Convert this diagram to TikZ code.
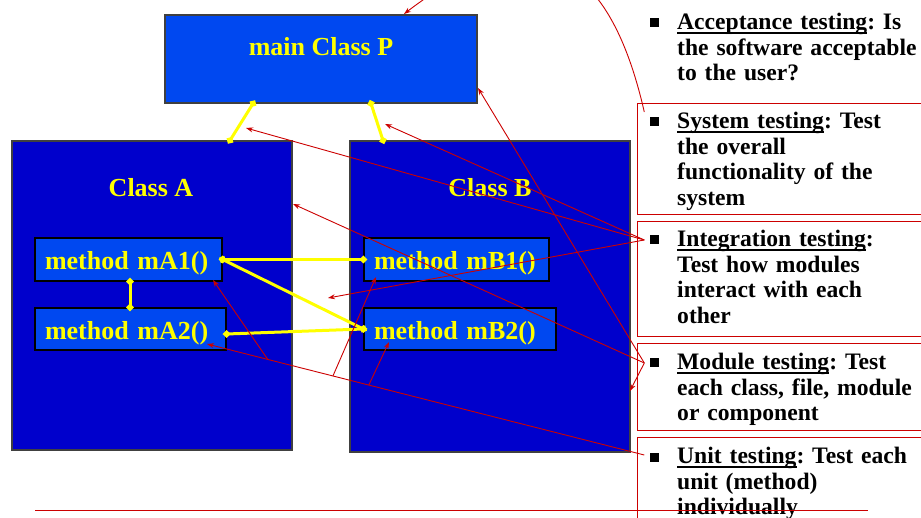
\documentclass[tikz,border=0pt]{standalone}
\usepackage{fontspec}
\setmainfont{Liberation Serif}
\usetikzlibrary{arrows.meta,calc}
\frenchspacing
\newsavebox{\ulbox}
\newcommand{\testul}[1]{\sbox{\ulbox}{#1}\rlap{\rule[-4pt]{\wd\ulbox}{1.5pt}}\usebox{\ulbox}}
\definecolor{pblue}{RGB}{0,72,240}
\definecolor{cblue}{RGB}{0,0,204}
\definecolor{dred}{RGB}{204,0,0}
\definecolor{yel}{RGB}{255,255,0}
\tikzset{
  mainbox/.style={draw=black!75, line width=1.2pt, fill=pblue},
  classbox/.style={draw=black!75, line width=1.2pt, fill=cblue},
  methodbox/.style={draw=black, line width=1.2pt, fill=pblue, text=yel, align=left,
    inner xsep=10pt, inner ysep=2pt, text height=24pt, text depth=3pt,
    font=\fontsize{26}{28}\selectfont\bfseries},
  boxlabel/.style={text=yel, inner sep=0pt, font=\fontsize{26}{28}\selectfont\bfseries},
  ylink/.style={draw=yel, line width=3pt, shorten <=-4pt, shorten >=-4pt,
    {Diamond[length=8pt,width=8pt]}-{Diamond[length=8pt,width=8pt]}},
  testarrow/.style={draw=dred, line width=0.9pt, -{Stealth[length=7pt,width=5pt]}},
  testline/.style={draw=dred, line width=0.9pt},
  testframe/.style={draw=dred, line width=0.8pt},
  bul/.style={fill=black, minimum size=9pt, inner sep=0pt},
  testtext/.style={anchor=north west, inner sep=0pt, align=left, text width=250pt,
    font=\fontsize{23.6}{25.7}\selectfont\bfseries}
}

\begin{document}
\begin{tikzpicture}[x=1pt, y=-1pt]
    \useasboundingbox (0,0) rectangle (921,518);
    \fill[white] (0,0) rectangle (921,518);
    \clip (0,0) rectangle (921,518);

    \node[classbox, minimum width=280pt, minimum height=309pt] (A) at (152,295.5) {};
    \node[classbox, minimum width=280pt, minimum height=311pt] (B) at (490,296.5) {};
    \node[mainbox, minimum width=312pt, minimum height=88pt] (P) at (321,59) {};
    \node[boxlabel] (Ptxt) at (321,47) {main Class P};
    \node[boxlabel] (Atxt) at (151,188) {Class A};
    \node[boxlabel] (Btxt) at (490,188) {Class B};

    \node[methodbox, minimum width=187pt, minimum height=43pt, text width=167pt] (mA1) at (128.5,259.5) {method mA1()};
    \node[methodbox, minimum width=191pt, minimum height=42pt, text width=171pt] (mA2) at (130.5,329) {method mA2()};
    \node[methodbox, minimum width=185pt, minimum height=43pt, text width=165pt] (mB1) at (456.5,259.5) {method mB1()};
    \node[methodbox, minimum width=192pt, minimum height=42pt, text width=172pt] (mB2) at (460,329) {method mB2()};

    \draw[ylink] ([xshift=-68pt]P.south) -- ([xshift=78pt]A.north);
    \draw[ylink] ([xshift=50pt]P.south) -- ([xshift=-107pt]B.north);
    \draw[ylink] ([xshift=1.5pt]mA1.south) -- ([xshift=-0.5pt]mA2.north);
    \draw[ylink] (mA1.east) -- (mB1.west);
    \draw[ylink] (mA1.east) -- (mB2.west);
    \draw[ylink] ([yshift=-5pt]mA2.east) -- (mB2.west);

    \node[bul] (bAcc) at (654,23) {};
    \node[bul] (bSys) at (654,122) {};
    \node[bul] (bInt) at (654,240) {};
    \node[bul] (bMod) at (654,363) {};
    \node[bul] (bUni) at (654,457) {};

    \node[testtext] (tAcc) at (677,13) {\testul{Acceptance testing}: Is\\the software acceptable\\to the user?};
    \node[testtext] (tSys) at (677,112) {\testul{System testing}: Test\\the overall\\functionality of the\\system};
    \node[testtext] (tInt) at (677,230) {\testul{Integration testing}:\\Test how modules\\interact with each\\other};
    \node[testtext] (tMod) at (677,353) {\testul{Module testing}: Test\\each class, file, module\\or component};
    \node[testtext] (tUni) at (677,447) {\testul{Unit testing}: Test each\\unit (method)\\individually};

    \draw[testframe] (637,103) rectangle (925,214);
    \draw[testframe] (637,221) rectangle (925,336);
    \draw[testframe] (637,343) rectangle (925,430);
    \draw[testframe] (637,437) rectangle (925,530);

    \coordinate (sysp) at ([shift={(-5pt,10pt)}]bSys.west);
    \coordinate (intp) at ([xshift=-5pt]bInt.west);
    \coordinate (modp) at ([xshift=-5pt]bMod.west);
    \coordinate (unip) at ([shift={(-5pt,2pt)}]bUni.west);
    \coordinate (Ptop) at (404,14);
    \coordinate (Pright) at (478,88);
    \coordinate (linkPA) at (246,128);
    \coordinate (linkPB) at (385,124);
    \coordinate (linkAB) at (328,298);
    \coordinate (Aright) at (293,204);
    \coordinate (Bright) at (630,391);
    \coordinate (mA2hit) at (207,344);
    \coordinate (mA1hit) at (213,280);
    \coordinate (mB1hit) at (376,277);
    \coordinate (mB2hit) at (389,342);

    \draw[testarrow] (sysp) .. controls (605,-60) and (520,-75) .. (Ptop);
    \draw[testarrow] (intp) -- (linkPA);
    \draw[testarrow] (intp) -- (linkPB);
    \draw[testarrow] (intp) -- (linkAB);
    \draw[testarrow] (modp) -- (Pright);
    \draw[testarrow] (modp) -- (Aright);
    \draw[testarrow] (modp) -- (Bright);
    \draw[testarrow] (unip) -- (mA2hit);
    \draw[testarrow] ($(unip)!0.861!(mA2hit)$) -- (mA1hit);
    \draw[testarrow] ($(unip)!0.712!(mA2hit)$) -- (mB1hit);
    \draw[testarrow] ($(unip)!0.630!(mA2hit)$) -- (mB2hit);

    \draw[testline] (35,510) -- (868,510);
\end{tikzpicture}
\end{document}
